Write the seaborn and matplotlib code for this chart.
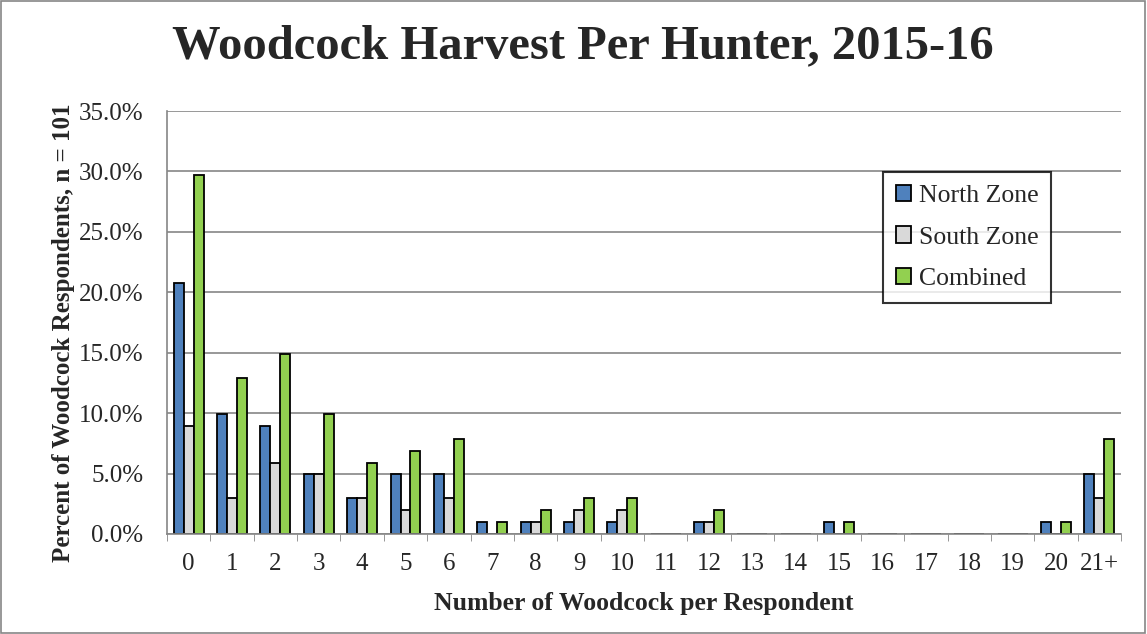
import pandas as pd
import numpy as np
import matplotlib
matplotlib.use("Agg")
import matplotlib.pyplot as plt
import seaborn as sns

categories = ['0', '1', '2', '3', '4', '5', '6', '7', '8', '9', '10',
              '11', '12', '13', '14', '15', '16', '17', '18', '19', '20', '21+']
# percent of respondents (counts / 101)
north = [20.8, 9.9, 8.9, 5.0, 3.0, 5.0, 5.0, 1.0, 1.0, 1.0, 1.0,
         0, 1.0, 0, 0, 1.0, 0, 0, 0, 0, 1.0, 5.0]
south = [8.9, 3.0, 5.9, 5.0, 3.0, 2.0, 3.0, 0, 1.0, 2.0, 2.0,
         0, 1.0, 0, 0, 0, 0, 0, 0, 0, 0, 3.0]
combined = [29.7, 12.9, 14.9, 9.9, 5.9, 6.9, 7.9, 1.0, 2.0, 3.0, 3.0,
            0, 2.0, 0, 0, 1.0, 0, 0, 0, 0, 1.0, 7.9]
series_names = ['North Zone', 'South Zone', 'Combined']
colors = ['#4F81BD', '#D9D9D9', '#92D050']

df = pd.DataFrame({'cat': categories * 3,
                   'val': north + south + combined,
                   'zone': np.repeat(series_names, len(categories))})

sns.set_style('white')
plt.rcParams['font.family'] = ['Liberation Serif', 'DejaVu Serif']

W, H = 1147, 634
fig = plt.figure(figsize=(W / 100, H / 100), dpi=100)
ax = fig.add_axes([167 / W, 1 - 534 / H, (1121 - 167) / W, (534 - 111) / H])

sns.barplot(data=df, x='cat', y='val', hue='zone', order=categories,
            hue_order=series_names, palette=colors, width=0.69,
            edgecolor='black', linewidth=1.3, ax=ax, saturation=1)

ax.set_ylim(0, 35)
ax.set_yticks(np.arange(0, 36, 5))
ax.set_yticklabels(['{:.1f}%'.format(v) for v in np.arange(0, 36, 5)], fontsize=18)
ax.set_xlim(-0.5, len(categories) - 0.5)
ax.set_xticks(range(len(categories)))
ax.set_xticklabels(categories, fontsize=18)
ax.tick_params(axis='x', length=0, pad=14)
ax.set_xticks(np.arange(-0.5, len(categories), 1), minor=True)
ax.tick_params(axis='x', which='minor', length=5, color='#868686', direction='out', bottom=True)
ax.tick_params(axis='y', length=5, color='#868686', direction='out', pad=12)
ax.yaxis.grid(True, color='#868686', linewidth=1.2)
ax.set_axisbelow(True)
for s in ['top', 'right']:
    ax.spines[s].set_visible(False)
for s in ['left', 'bottom']:
    ax.spines[s].set_color('#868686')
    ax.spines[s].set_linewidth(1.2)

ax.set_xlabel('Number of Woodcock per Respondent', fontsize=18.5, fontweight='bold', labelpad=12)
ax.set_ylabel('Percent of Woodcock Respondents, n = 101', fontsize=18, fontweight='bold')
ax.yaxis.set_label_coords((75 - 167) / (1121 - 167), (534 - 333) / (534 - 111))

fig.text(583 / W, 1 - 46 / H, 'Woodcock Harvest Per Hunter, 2015-16',
         ha='center', va='center', fontsize=35, fontweight='bold')

leg = ax.legend(loc='upper left', bbox_to_anchor=((883 - 167) / (1121 - 167), (534 - 172) / (534 - 111)),
                fontsize=18.5, frameon=True, fancybox=False, edgecolor='black',
                handlelength=0.6, handleheight=0.6, handletextpad=0.3, labelspacing=0.75,
                borderpad=0.5, borderaxespad=0)
leg.get_frame().set_linewidth(1.5)

fig.add_artist(plt.Rectangle((0.001, 0.002), 0.997, 0.996, transform=fig.transFigure,
                             fill=False, edgecolor='#868686', linewidth=1.2))

fig.savefig('out.png', dpi=100)
